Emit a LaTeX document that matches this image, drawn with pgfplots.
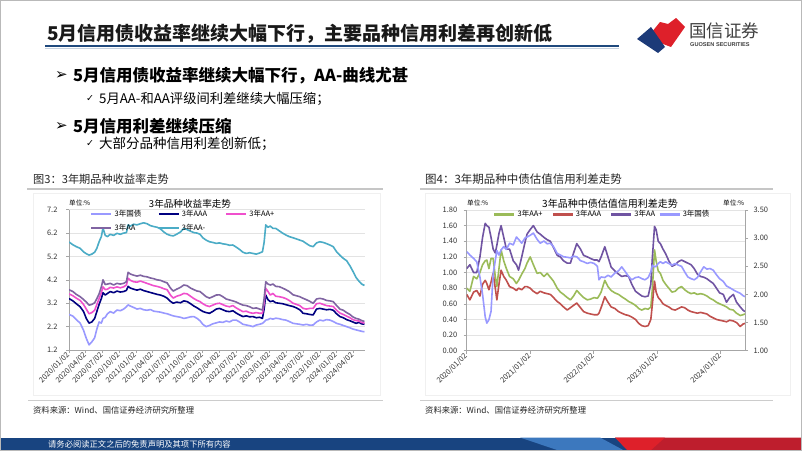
\documentclass[border=0pt]{standalone}
\usepackage{fontspec}
\setmainfont{Noto Sans CJK SC}
\newfontfamily\dejavu{DejaVu Sans}
\newfontfamily\arial{Liberation Sans}
\usepackage{pgfplots}
\usepackage{pgfplotstable}
\pgfplotsset{compat=1.18}

\definecolor{gzA}{RGB}{153,153,255}
\definecolor{aaaA}{RGB}{0,0,128}
\definecolor{aapA}{RGB}{240,80,205}
\definecolor{aaA}{RGB}{128,100,162}
\definecolor{aamA}{RGB}{75,172,198}
\definecolor{aapB}{RGB}{155,187,89}
\definecolor{aaaB}{RGB}{192,80,77}
\definecolor{aaB}{RGB}{112,84,162}
\definecolor{gzB}{RGB}{153,153,255}
\definecolor{navyline}{RGB}{31,73,125}
\definecolor{footblue}{RGB}{24,68,128}
\definecolor{footlight}{RGB}{60,120,190}
\definecolor{logored}{RGB}{222,32,42}
\definecolor{footred}{RGB}{190,30,45}
\definecolor{logoblue}{RGB}{28,58,120}

\newcommand{\fs}[1]{\fontsize{#1bp}{#1bp}\selectfont}

% 3年期收益率 (t = 自2020/01/02起的月数)
\pgfplotstableread{
t     gz    aaa   aap   aa    aam
0     2.72  3.40  3.60  3.78  5.82
0.7   2.65  3.30  3.52  3.70  5.70
1.3   2.50  3.18  3.42  3.58  5.62
2     2.35  3.05  3.32  3.48  5.55
2.6   2.05  2.85  3.15  3.36  5.40
3.1   1.70  2.55  2.95  3.25  5.32
3.6   1.42  2.35  2.75  3.12  5.26
4.1   1.55  2.40  2.80  3.15  5.30
4.6   1.72  2.55  2.90  3.22  5.38
5.0   2.10  2.85  3.15  3.40  5.55
5.4   2.40  3.15  3.40  3.60  5.83
5.8   2.35  3.40  3.65  3.90  6.05
6.1   2.55  3.65  3.90  4.20  6.42
6.5   2.60  3.55  3.78  4.00  6.10
6.9   2.75  3.62  3.80  4.02  6.05
7.4   2.84  3.70  3.88  4.05  6.15
8.0   2.78  3.65  3.85  3.98  6.10
8.6   2.91  3.72  3.90  4.05  6.19
9.2   2.88  3.68  3.86  4.02  6.15
9.8   2.95  3.70  3.90  4.05  6.20
10.3  3.05  3.75  3.98  4.12  6.22
10.6  3.13  3.92  4.27  4.52  6.55
11.0  3.08  3.85  4.18  4.45  6.50
11.6  3.02  3.80  4.12  4.40  6.58
12.2  2.95  3.76  4.10  4.36  6.55
12.8  2.98  3.80  4.15  4.40  6.60
13.4  2.92  3.74  4.10  4.35  6.64
14.0  2.90  3.70  4.05  4.33  6.60
14.6  2.93  3.66  4.00  4.28  6.52
15.2  2.86  3.62  3.95  4.25  6.48
15.8  2.84  3.58  3.92  4.20  6.45
16.4  2.82  3.55  3.88  4.18  6.38
17.0  2.78  3.50  3.82  4.12  6.25
17.6  2.75  3.42  3.78  4.07  6.15
18.2  2.70  3.28  3.55  3.85  6.10
18.7  2.66  3.20  3.42  3.72  6.08
19.3  2.63  3.25  3.50  3.80  6.15
20.0  2.60  3.22  3.55  3.88  6.25
20.6  2.55  3.30  3.62  3.98  6.40
21.2  2.58  3.27  3.60  3.95  6.35
21.8  2.62  3.18  3.50  3.85  6.28
22.4  2.63  3.08  3.40  3.78  6.22
23.0  2.55  3.00  3.32  3.72  6.20
23.5  2.45  2.92  3.27  3.70  6.15
24.0  2.30  2.85  3.18  3.60  6.00
24.6  2.20  2.80  3.10  3.48  5.90
25.2  2.25  2.77  3.06  3.42  5.83
25.8  2.32  2.85  3.12  3.48  5.80
26.4  2.36  2.95  3.18  3.55  5.76
27.0  2.40  2.98  3.20  3.56  5.78
27.6  2.38  2.92  3.14  3.48  5.74
28.2  2.44  2.86  3.08  3.38  5.72
28.8  2.40  2.84  3.05  3.34  5.68
29.4  2.48  2.88  3.10  3.30  5.69
30.0  2.48  2.78  3.00  3.25  5.60
30.6  2.40  2.70  2.92  3.18  5.50
31.2  2.30  2.63  2.84  3.12  5.38
31.8  2.27  2.66  2.86  3.10  5.33
32.4  2.24  2.62  2.80  3.05  5.36
33.0  2.20  2.63  2.77  2.98  5.33
33.6  2.27  2.58  2.80  3.00  5.30
34.2  2.30  2.60  2.77  2.95  5.35
34.7  2.34  2.55  2.77  2.91  5.40
35.0  2.40  2.95  3.20  3.40  5.80
35.3  2.48  3.55  3.84  4.12  6.55
35.7  2.50  3.35  3.70  4.02  6.45
36.1  2.55  3.27  3.55  3.98  6.50
36.6  2.52  3.30  3.62  4.02  6.40
37.1  2.56  3.22  3.50  3.92  6.40
37.7  2.54  3.20  3.48  3.91  6.30
38.3  2.50  3.18  3.45  3.85  6.20
38.9  2.48  3.14  3.40  3.78  6.12
39.5  2.42  3.10  3.32  3.70  6.05
40.2  2.34  3.06  3.20  3.56  6.00
40.8  2.32  3.00  3.15  3.52  5.95
41.4  2.30  2.92  3.10  3.48  5.90
42.0  2.27  2.77  2.98  3.41  5.85
42.6  2.30  2.75  2.95  3.35  5.75
43.2  2.26  2.72  2.98  3.28  5.66
43.8  2.27  2.70  2.98  3.20  5.62
44.4  2.40  2.95  3.18  3.38  5.78
45.0  2.48  2.98  3.20  3.41  5.83
45.6  2.45  2.95  3.15  3.38  5.80
46.2  2.50  2.92  3.10  3.32  5.75
46.8  2.48  2.94  3.08  3.30  5.69
47.4  2.42  2.90  3.06  3.27  5.62
48.0  2.34  2.75  2.90  3.10  5.40
48.6  2.30  2.63  2.78  2.95  5.25
49.2  2.25  2.58  2.72  2.90  5.12
49.8  2.20  2.50  2.65  2.80  5.02
50.4  2.15  2.45  2.58  2.72  4.80
50.9  2.10  2.40  2.50  2.62  4.58
51.5  2.06  2.34  2.46  2.55  4.30
52.0  2.03  2.38  2.44  2.52  4.15
52.5  2.00  2.32  2.38  2.46  4.02
53.0  1.98  2.30  2.35  2.42  3.96
}\tabA

% 3年期信用利差 (gz 为右轴)
\pgfplotstableread{
t    aap   aaa   aa    gz
0    0.80  0.72  1.05  2.76
0.6  0.76  0.65  1.10  2.70
1.3  0.95  0.75  1.00  2.64
1.9  0.92  0.77  1.00  2.58
2.5  1.00  0.70  1.20  2.31
3.0  1.10  0.85  1.45  2.00
3.5  1.15  0.90  1.63  1.60
3.8  1.16  0.86  1.60  1.49
4.2  1.05  0.78  1.58  1.55
4.6  1.18  0.88  1.45  1.70
5.0  1.18  0.99  1.30  2.37
5.4  0.95  0.80  1.25  2.60
5.7  0.82  0.65  1.35  2.78
6.1  1.05  0.85  1.50  2.70
6.5  1.29  1.03  1.60  2.79
7.0  1.15  0.95  1.45  2.85
7.5  1.05  0.90  1.30  2.80
8.1  0.95  0.82  1.30  2.91
8.8  0.92  0.80  1.15  2.88
9.4  0.86  0.77  1.10  3.02
9.8  0.90  0.80  1.03  2.98
10.4 0.98  0.78  1.20  2.91
11.0 1.05  0.82  1.38  3.00
11.4 1.12  0.82  1.49  3.02
12.0 1.20  0.80  1.55  3.05
12.6 1.10  0.76  1.60  3.09
13.3 0.99  0.73  1.52  2.98
13.9 1.00  0.76  1.49  2.91
14.6 0.95  0.74  1.45  2.95
15.2 0.99  0.73  1.42  2.90
15.8 0.94  0.72  1.40  2.91
16.4 0.89  0.68  1.32  2.85
17.1 0.80  0.63  1.22  2.73
17.7 0.75  0.60  1.20  2.70
18.3 0.72  0.56  1.15  2.67
19.0 0.68  0.52  1.12  2.66
19.6 0.65  0.55  1.12  2.65
20.2 0.70  0.58  1.25  2.68
20.8 0.77  0.61  1.37  2.67
21.5 0.72  0.55  1.30  2.60
22.1 0.68  0.50  1.22  2.58
22.8 0.65  0.48  1.20  2.55
23.4 0.66  0.47  1.18  2.57
24.1 0.68  0.46  1.16  2.55
24.7 0.67  0.46  1.16  2.50
25.0 0.70  0.48  1.14  2.26
25.4 0.75  0.55  1.20  2.31
26.1 0.90  0.69  1.33  2.30
26.7 0.82  0.62  1.20  2.34
27.3 0.77  0.56  1.07  2.31
28.0 0.74  0.54  1.02  2.38
28.7 0.72  0.50  0.98  2.42
29.3 0.69  0.48  0.95  2.49
30.0 0.66  0.46  0.96  2.40
30.6 0.63  0.45  0.95  2.32
31.2 0.61  0.43  0.85  2.26
31.9 0.58  0.40  0.76  2.30
32.5 0.54  0.35  0.73  2.31
33.1 0.52  0.32  0.70  2.28
33.7 0.54  0.31  0.69  2.26
34.3 0.53  0.32  0.70  2.30
34.8 0.56  0.40  0.85  2.40
35.1 0.80  0.60  1.20  2.52
35.5 1.29  0.89  1.59  2.49
35.8 1.15  0.75  1.55  2.50
36.2 1.02  0.68  1.40  2.55
36.6 0.99  0.65  1.37  2.58
37.1 0.90  0.60  1.30  2.55
37.6 0.85  0.58  1.24  2.58
38.2 0.80  0.56  1.15  2.55
38.8 0.75  0.53  1.08  2.52
39.4 0.76  0.52  1.10  2.55
40.0 0.80  0.54  1.14  2.52
40.6 0.82  0.56  1.16  2.50
41.2 0.78  0.55  1.14  2.40
41.8 0.75  0.52  1.12  2.31
42.4 0.73  0.50  1.10  2.28
43.0 0.74  0.49  1.05  2.26
43.6 0.72  0.48  0.98  2.30
44.2 0.73  0.49  0.95  2.40
44.8 0.72  0.48  0.94  2.49
45.4 0.70  0.47  0.92  2.45
46.0 0.67  0.44  0.89  2.46
46.6 0.65  0.42  0.86  2.43
47.2 0.62  0.40  0.80  2.35
47.8 0.60  0.39  0.74  2.28
48.5 0.58  0.38  0.72  2.23
49.1 0.56  0.37  0.62  2.15
49.7 0.53  0.39  0.68  2.12
50.4 0.52  0.38  0.72  2.08
51.0 0.48  0.36  0.62  2.05
51.7 0.45  0.31  0.56  2.02
52.2 0.46  0.34  0.52  1.98
52.6 0.47  0.35  0.50  1.96
}\tabB

\pgfplotsset{slide/.style={
  scale only axis,
  axis line style={gray!70, line width=0.7bp, -},
  tick style={gray!70, line width=0.6bp},
  major tick length=3bp, tick align=outside,
  ymajorgrids, grid style={gray!22, line width=0.6bp},
  ticklabel style={font=\fs{7.5}, text=black!80},
  x tick label style={rotate=45, anchor=east, inner sep=1bp},
  legend image code/.code={\draw[##1, line width=2.4bp] (0bp,0bp) -- (20bp,0bp);},
  legend style={draw=none, fill=none, font=\fs{7.5}, inner sep=0pt, row sep=2bp},
  every axis plot/.append style={line width=1.6bp, line join=round},
}}

\begin{document}
\begin{tikzpicture}
\path[use as bounding box] (0,0) rectangle (802bp,-451bp);
\fill[white] (0,0) rectangle (802bp,-451bp);

\begin{scope}[x=1bp,y=-1bp]
% header
\node[anchor=west, inner sep=0, text=black!90] at (47,34) {\bfseries\fs{19}5月信用债收益率继续大幅下行，主要品种信用利差再创新低};
\draw[navyline, line width=2bp] (45,46) -- (619,46);
\draw[navyline!25, line width=1bp] (45,48) -- (619,48);
% logo
\fill[logored] (647,38) -- (660,22) -- (668,24) -- (676,18) -- (685,27) -- (671,47) -- cycle;
\fill[logoblue] (637,39) -- (651,27) -- (665,47) -- (658,53) -- cycle;
\node[anchor=west, inner sep=0, text=black!75] at (689,31) {\fs{17.5}国信证券};
\node[anchor=west, inner sep=0, text=black!75] at (690,45) {\arial\bfseries\fs{5.6}GUOSEN SECURITIES};
% bullets
\node[anchor=west, inner sep=0] at (55,75.5) {\dejavu\fs{15}➢};
\node[anchor=west, inner sep=0] at (73,75.5) {\bfseries\fs{16.5}5月信用债收益率继续大幅下行，AA-曲线尤甚};
\node[anchor=west, inner sep=0] at (86,98.5) {\dejavu\fs{9.5}✓};
\node[anchor=west, inner sep=0] at (99,98.5) {\fs{13.3}5月AA-和AA评级间利差继续大幅压缩；};
\node[anchor=west, inner sep=0] at (55,126.5) {\dejavu\fs{15}➢};
\node[anchor=west, inner sep=0] at (73,126.5) {\bfseries\fs{16.5}5月信用利差继续压缩};
\node[anchor=west, inner sep=0] at (86,143.5) {\dejavu\fs{9.5}✓};
\node[anchor=west, inner sep=0] at (99,143.5) {\fs{13.5}大部分品种信用利差创新低；};
% captions
\node[anchor=west, inner sep=0, text=black!85] at (33,179) {\fs{11.2}图3：3年期品种收益率走势};
\node[anchor=west, inner sep=0, text=black!85] at (425,179) {\fs{11.5}图4：3年期品种中债估值信用利差走势};
\draw[gray!45, line width=1.2bp] (27,189) -- (383,189);
\draw[gray!45, line width=1.2bp] (420,189) -- (773,189);
\draw[gray!12, line width=0.6bp] (33,193) rectangle (380,395);
\draw[gray!12, line width=0.6bp] (425,193) rectangle (790,395);
% chart titles
\node[inner sep=0] at (190,204) {\fs{9.6}3年品种收益率走势};
\node[anchor=west, inner sep=0] at (69,202.5) {\fs{6.6}单位:\%};
\node[inner sep=0] at (610,204) {\fs{10}3年品种中债估值信用利差走势};
\node[anchor=west, inner sep=0] at (467,202.5) {\fs{6.6}单位:\%};
\node[anchor=west, inner sep=0] at (723,202.5) {\fs{6.6}单位:\%};
% sources
\draw[gray!40, line width=1.2bp] (28,400.5) -- (383,400.5);
\draw[gray!40, line width=1.2bp] (420,400.5) -- (773,400.5);
\node[anchor=west, inner sep=0, text=black!85] at (33,410) {\fs{8.3}资料来源：Wind、国信证券经济研究所整理};
\node[anchor=west, inner sep=0, text=black!85] at (425,410) {\fs{8.3}资料来源：Wind、国信证券经济研究所整理};
% footer
\fill[footblue] (0,437.5) rectangle (802,451);
\fill[footlight] (520,437.5) -- (600,437.5) -- (625,451) -- (560,451) -- cycle;
\fill[footred] (615,437.5) -- (802,437.5) -- (802,451) -- (640,451) -- cycle;
\fill[logored] (615,437.5) -- (665,437.5) -- (650,451) -- (628,451) -- cycle;
\node[anchor=west, inner sep=0, text=white] at (48,444) {\fs{8.3}请务必阅读正文之后的免责声明及其项下所有内容};
% slide frame
\draw[gray!55, line width=1.4bp] (0.7,0.7) rectangle (801.3,450.3);
\end{scope}

% chart 1
\begin{axis}[slide,
  at={(69bp,-350bp)}, anchor=south west,
  width=296bp, height=140.3bp,
  xmin=0, xmax=53.1, ymin=1.2, ymax=7.2,
  axis x line*=bottom, axis y line*=left,
  xtick={0,3,...,51},
  xticklabels={2020/01/02,2020/04/02,2020/07/02,2020/10/02,2021/01/02,2021/04/02,2021/07/02,2021/10/02,2022/01/02,2022/04/02,2022/07/02,2022/10/02,2023/01/02,2023/04/02,2023/07/02,2023/10/02,2024/01/02,2024/04/02},
  ytick={1.2,2.2,3.2,4.2,5.2,6.2,7.2},
  yticklabels={1.2,2.2,3.2,4.2,5.2,6.2,7.2},
  yticklabel style={xshift=-5bp},
  legend columns=3,
  legend style={at={(0.071,1.012)}, anchor=north west},
]
\addplot[gzA] table[x=t,y=gz]{\tabA};
\addlegendentry{\makebox[41bp][l]{3年国债}}
\addplot[aaaA] table[x=t,y=aaa]{\tabA};
\addlegendentry{\makebox[41bp][l]{3年AAA}}
\addplot[aapA] table[x=t,y=aap]{\tabA};
\addlegendentry{\makebox[41bp][l]{3年AA+}}
\addplot[aaA] table[x=t,y=aa]{\tabA};
\addlegendentry{\makebox[41bp][l]{3年AA}}
\addplot[aamA] table[x=t,y=aam]{\tabA};
\addlegendentry{\makebox[41bp][l]{3年AA-}}
\end{axis}

% chart 2, left axis
\begin{axis}[slide,
  at={(466.7bp,-350.7bp)}, anchor=south west,
  width=278.3bp, height=140.7bp,
  xmin=0, xmax=52.6, ymin=0, ymax=1.8,
  axis x line*=bottom, axis y line*=left,
  xtick={0,12,24,36,48},
  xticklabels={2020/01/02,2021/01/02,2022/01/02,2023/01/02,2024/01/02},
  ytick={0,0.2,0.4,0.6,0.8,1.0,1.2,1.4,1.6,1.8},
  yticklabels={0.00,0.20,0.40,0.60,0.80,1.00,1.20,1.40,1.60,1.80},
  yticklabel style={xshift=-3bp},
  legend columns=4,
  legend style={at={(0.0945,1.012)}, anchor=north west},
]
\addplot[aapB] table[x=t,y=aap]{\tabB};
\addlegendentry{\makebox[32bp][l]{3年AA+}}
\addplot[aaaB] table[x=t,y=aaa]{\tabB};
\addlegendentry{\makebox[32bp][l]{3年AAA}}
\addplot[aaB] table[x=t,y=aa]{\tabB};
\addlegendentry{\makebox[22bp][l]{3年AA}}
\addlegendimage{gzB}
\addlegendentry{3年国债}
\end{axis}

% chart 2, right axis
\begin{axis}[slide,
  at={(466.7bp,-350.7bp)}, anchor=south west,
  width=278.3bp, height=140.7bp,
  xmin=0, xmax=52.6, ymin=1, ymax=3.5,
  axis x line=none, axis y line*=right,
  ymajorgrids=false,
  ytick={1,1.5,2,2.5,3,3.5},
  yticklabels={1.00,1.50,2.00,2.50,3.00,3.50},
  yticklabel style={xshift=2bp},
]
\addplot[gzB] table[x=t,y=gz]{\tabB};
\end{axis}
\end{tikzpicture}
\end{document}
